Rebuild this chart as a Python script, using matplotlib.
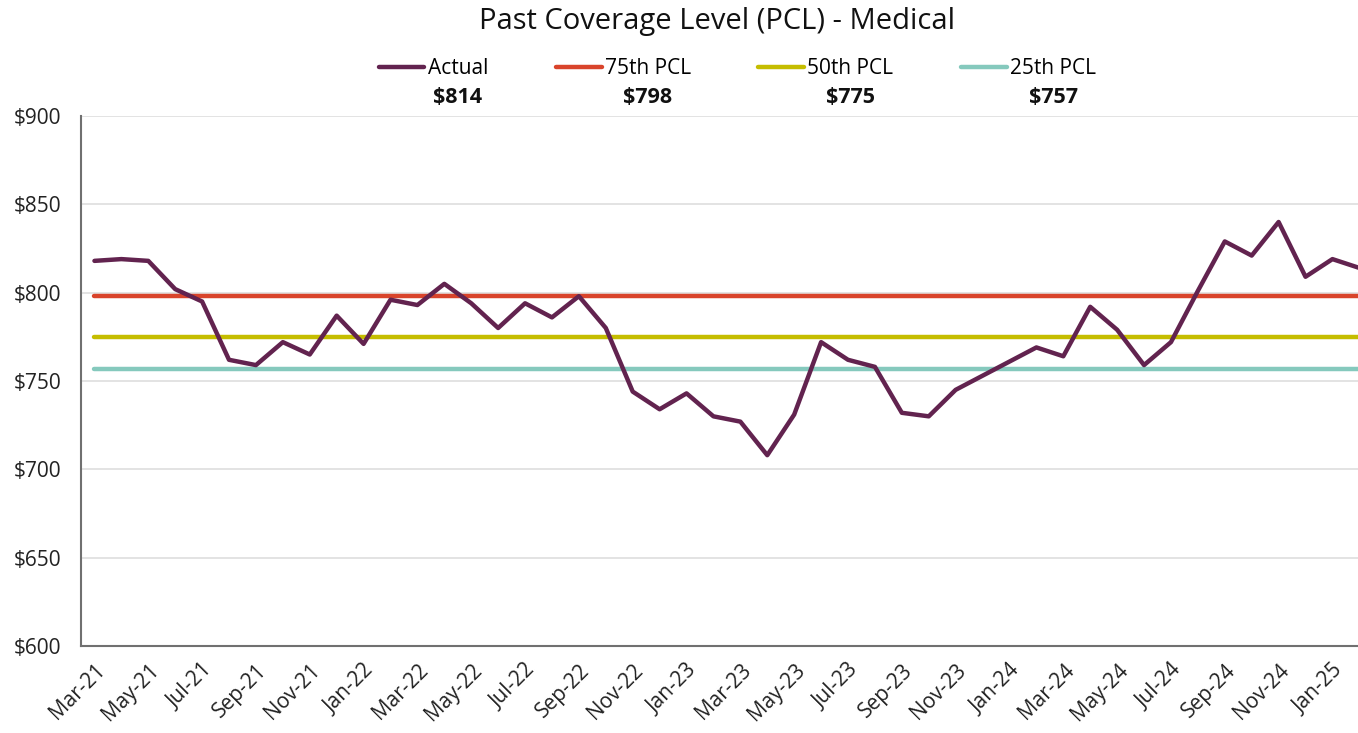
import numpy as np
import matplotlib.pyplot as plt

plt.rcParams['font.family'] = ['Open Sans', 'DejaVu Sans']

# monthly values, Mar-21 .. Feb-25
months = ['Mar-21', 'Apr-21', 'May-21', 'Jun-21', 'Jul-21', 'Aug-21', 'Sep-21', 'Oct-21',
          'Nov-21', 'Dec-21', 'Jan-22', 'Feb-22', 'Mar-22', 'Apr-22', 'May-22', 'Jun-22',
          'Jul-22', 'Aug-22', 'Sep-22', 'Oct-22', 'Nov-22', 'Dec-22', 'Jan-23', 'Feb-23',
          'Mar-23', 'Apr-23', 'May-23', 'Jun-23', 'Jul-23', 'Aug-23', 'Sep-23', 'Oct-23',
          'Nov-23', 'Dec-23', 'Jan-24', 'Feb-24', 'Mar-24', 'Apr-24', 'May-24', 'Jun-24',
          'Jul-24', 'Aug-24', 'Sep-24', 'Oct-24', 'Nov-24', 'Dec-24', 'Jan-25', 'Feb-25']
actual = [818, 819, 818, 802, 795, 762, 759, 772, 765, 787, 771, 796, 793, 805, 794, 780,
          794, 786, 798, 780, 744, 734, 743, 730, 727, 708, 731, 772, 762, 758, 732, 730,
          745, 753, 761, 769, 764, 792, 779, 759, 772, 801, 829, 821, 840, 809, 819, 814]
pcl_names = ['75th PCL', '50th PCL', '25th PCL']
pcl_values = [798, 775, 757]

c_actual = '#62234f'
pcl_colors = ['#d9442b', '#c5bd00', '#85c9bd']

fig = plt.figure(figsize=(13.58, 7.33), dpi=100)
ax = fig.add_axes([81 / 1358, 87 / 733, 1277 / 1358, 530 / 733])

x = np.arange(len(months))
handles = []
h, = ax.plot(x, actual, color=c_actual, lw=3.2, zorder=5, solid_capstyle='round', label='Actual')
handles.append(h)
for name, val, col in zip(pcl_names, pcl_values, pcl_colors):
    h, = ax.plot([x[0], x[-1]], [val, val], color=col, lw=3.2, zorder=3,
                 solid_capstyle='round', label=name)
    handles.append(h)

ax.set_xlim(-0.5, 46.95)
ax.set_ylim(600, 900)
ax.set_yticks(np.arange(600, 901, 50))
ax.set_yticklabels(['$%d' % v for v in np.arange(600, 901, 50)])
ax.set_xticks(x[::2])
ax.set_xticklabels(months[::2], rotation=45, ha='right', rotation_mode='anchor')
ax.tick_params(axis='both', length=0, labelsize=15, colors='#222222')
ax.tick_params(axis='y', pad=14)
ax.tick_params(axis='x', pad=10)
ax.grid(axis='y', color='#e0e0e0', lw=1.3)
ax.set_axisbelow(True)
for s in ['top', 'right']:
    ax.spines[s].set_visible(False)
for s in ['left', 'bottom']:
    ax.spines[s].set_color('#707070')
    ax.spines[s].set_linewidth(1.5)

fig.text(0.528, 0.99, 'Past Coverage Level (PCL) - Medical', ha='center', va='top',
         fontsize=21, color='#111111')

leg = fig.legend(handles=handles, loc='center', bbox_to_anchor=(0.543, 0.906), ncol=4,
                 frameon=False, fontsize=15, handlelength=2.2, handletextpad=0.15,
                 columnspacing=3.25)

# bold values under each legend label
fig.canvas.draw()
labels_vals = [actual[-1]] + pcl_values
inv = fig.transFigure.inverted()
for t, v in zip(leg.get_texts(), labels_vals):
    bb = t.get_window_extent()
    cx, cy = inv.transform(((bb.x0 + bb.x1) / 2, bb.y0))
    fig.text(cx, cy - 0.011, '$%d' % v, ha='center', va='top', fontsize=15.5,
             fontweight='bold', color='#111111')

fig.savefig('out.png', dpi=100)
